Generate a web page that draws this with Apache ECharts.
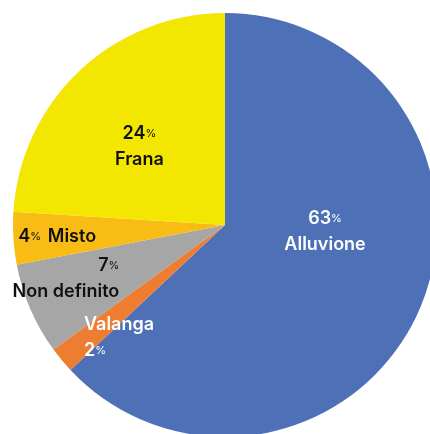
<!DOCTYPE html>
<html lang="it">
<head>
    <meta charset="UTF-8">
    <script src="https://cdn.jsdelivr.net/npm/echarts@6/dist/echarts.min.js"></script>
    <title>Eventi</title>
    <style>
        html, body { margin: 0; padding: 0; background: #fff; }
    </style>
</head>
<body>
    <div id="main" style="width:430px;height:434px"></div>
    <script>
        // dati (percentuali), in senso orario dall'alto
        var categorie = ['Alluvione', 'Valanga', 'Non definito', 'Misto', 'Frana'];
        var valori = [63, 2, 7, 4, 24];
        var colori = ['#4e70b6', '#ee7d31', '#a6a6a6', '#f9bc15', '#f3e600'];

        // come sono scritte le etichette di ogni fetta
        var etichette = {
            'Alluvione': { fmt: '{n|{c}}{p|%}\n{n|{b}}', color: '#fff', offset: [0, -37], align: 'center' },
            'Valanga': { fmt: '{n|{b}}\n{n|{c}}{p|%}', color: '#fff', offset: [-22, 43], align: 'left' },
            'Non definito': { fmt: '{n|{c}}{p|%}\n{n|{b}}', color: '#111', offset: [-59, 10], align: 'right' },
            'Misto': { fmt: '{n|{c}}{p|%}  {n|{b}}', color: '#111', offset: [-59, 5], align: 'center' },
            'Frana': { fmt: '{n|{c}}{p|%}\n{n|{b}}', color: '#111', offset: [-11, 1], align: 'center' }
        };

        function draw() {
            var chart = echarts.init(document.getElementById('main'));
            var dati = [];
            for (var i = 0; i < categorie.length; i++) {
                var e = etichette[categorie[i]];
                dati.push({
                    name: categorie[i],
                    value: valori[i],
                    itemStyle: { color: colori[i] },
                    label: {
                        formatter: e.fmt,
                        offset: e.offset,
                        color: e.color,
                        rich: {
                            n: { fontSize: 18, fontWeight: 600, color: e.color, fontFamily: 'Inter', lineHeight: 26, align: e.align },
                            p: { fontSize: 11, fontWeight: 400, color: e.color, fontFamily: 'Inter', lineHeight: 26, align: e.align }
                        }
                    }
                });
            }
            var option = {
                animation: false,
                series: [{
                    type: 'pie',
                    center: [225, 225],
                    radius: 212,
                    startAngle: 90,
                    clockwise: true,
                    label: { show: true, position: 'inside' },
                    labelLine: { show: false },
                    itemStyle: { borderWidth: 0 },
                    data: dati
                }]
            };
            chart.setOption(option);
        }
        draw();
    </script>
</body>
</html>
